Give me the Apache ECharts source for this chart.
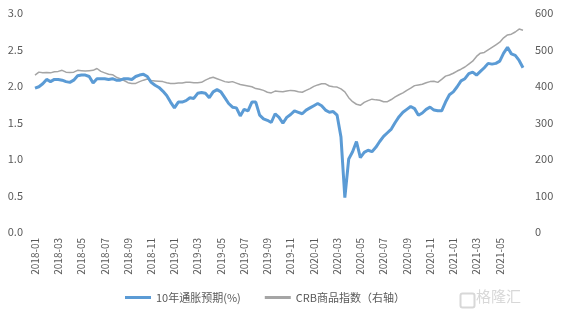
<!DOCTYPE html>
<html>
<head>
<meta charset="utf-8">
<script src="https://cdn.jsdelivr.net/npm/echarts@6/dist/echarts.min.js"></script>
<style>
    html, body { margin: 0; padding: 0; background: #fff; }
    #chart { width: 563px; height: 322px; }
</style>
</head>
<body>
<div id="chart"></div>
<script>
    // 10年通胀预期(%)，约每旬一个点
    var breakeven = [
        1.97, 1.99, 2.03, 2.09, 2.06, 2.09, 2.09, 2.08, 2.06, 2.05,
        2.08, 2.14, 2.15, 2.15, 2.13, 2.04, 2.10, 2.10, 2.10, 2.09,
        2.10, 2.08, 2.08, 2.10, 2.10, 2.09, 2.13, 2.15, 2.16, 2.13,
        2.05, 2.01, 1.98, 1.93, 1.87, 1.78, 1.70, 1.78, 1.78, 1.80,
        1.84, 1.83, 1.90, 1.91, 1.90, 1.84, 1.92, 1.95, 1.92, 1.84,
        1.76, 1.71, 1.70, 1.59, 1.68, 1.66, 1.78, 1.78, 1.60, 1.55,
        1.53, 1.50, 1.62, 1.57, 1.49, 1.57, 1.61, 1.66, 1.64, 1.62,
        1.67, 1.70, 1.73, 1.76, 1.73, 1.67, 1.64, 1.65, 1.60, 1.30,
        0.47, 1.00, 1.10, 1.24, 1.02, 1.09, 1.12, 1.10, 1.16, 1.24,
        1.31, 1.36, 1.41, 1.50, 1.58, 1.64, 1.68, 1.72, 1.69, 1.60,
        1.63, 1.68, 1.71, 1.67, 1.66, 1.66, 1.78, 1.88, 1.92, 1.99,
        2.07, 2.10, 2.17, 2.19, 2.15, 2.20, 2.25, 2.31, 2.30, 2.31,
        2.34, 2.45, 2.53, 2.44, 2.42, 2.35, 2.25
    ];
    // CRB商品指数
    var crb = [
        430, 438, 436, 437, 436, 439, 440, 443, 438, 437,
        438, 443, 442, 441, 442, 443, 448, 440, 436, 432,
        431, 424, 420, 415, 409, 407, 407, 412, 416, 419,
        415, 414, 413, 412, 409, 407, 407, 408, 408, 410,
        410, 409, 409, 410, 416, 421, 424, 420, 416, 412,
        410, 412, 408, 404, 402, 400, 398, 393, 391, 388,
        383, 381, 386, 385, 384, 386, 388, 387, 384, 383,
        388, 393, 399, 403, 406, 406, 400, 398, 397, 392,
        384, 368, 357, 350, 347, 355, 360, 364, 362, 361,
        357, 357, 363, 370, 376, 381, 388, 394, 401, 403,
        405, 409, 412, 413, 410, 418, 427, 430, 435, 441,
        446, 452, 460, 468, 481, 490, 492, 499, 506, 513,
        520, 532, 540, 542, 548, 556, 553
    ];

    // 日期：每月 01/11/21 三个点
    var dates = [];
    for (var y = 2018; y <= 2021; y++) {
        for (var m = 1; m <= 12; m++) {
            var mm = (m < 10 ? '0' : '') + m;
            ['01', '11', '21'].forEach(function (d) {
                if (dates.length < breakeven.length) dates.push(y + '-' + mm + '-' + d);
            });
        }
    }

    var leftTicks = [0, 3, 0.5];
    var rightTicks = [0, 600, 100];

    var chart = echarts.init(document.getElementById('chart'));
    var labelColor = '#595959';
    var font = '"Noto Sans CJK SC", "Liberation Sans", sans-serif';

    var option = {
        animation: false,
        grid: {
            left: 35,
            right: 40,
            top: 13,
            bottom: 90
        },
        legend: {
            bottom: 14,
            left: 120,
            itemWidth: 26,
            itemHeight: 3,
            itemGap: 24,
            icon: 'rect',
            textStyle: { color: labelColor, fontSize: 11, fontFamily: font },
            data: ['10年通胀预期(%)', 'CRB商品指数（右轴）']
        },
        xAxis: {
            type: 'category',
            data: dates,
            boundaryGap: false,
            axisLine: { show: false },
            axisTick: { show: false },
            axisLabel: {
                rotate: 90,
                margin: 6,
                color: labelColor,
                fontSize: 10,
                fontFamily: font,
                interval: function (index) {
                    return index % 6 === 0 && index <= 120;
                },
                formatter: function (v) {
                    return v.slice(0, 7);
                }
            }
        },
        yAxis: [{
            type: 'value',
            min: leftTicks[0],
            max: leftTicks[1],
            interval: leftTicks[2],
            splitLine: { show: false },
            axisLine: { show: false },
            axisTick: { show: false },
            axisLabel: {
                margin: 12,
                color: labelColor,
                fontSize: 11,
                fontFamily: font,
                formatter: function (v) { return v.toFixed(1); }
            }
        }, {
            type: 'value',
            min: rightTicks[0],
            max: rightTicks[1],
            interval: rightTicks[2],
            splitLine: { show: false },
            axisLine: { show: false },
            axisTick: { show: false },
            axisLabel: {
                margin: 12,
                color: labelColor,
                fontSize: 11,
                fontFamily: font
            }
        }],
        series: [{
            name: 'CRB商品指数（右轴）',
            type: 'line',
            yAxisIndex: 1,
            data: crb,
            symbol: 'none',
            z: 2,
            itemStyle: { color: '#A5A5A5' },
            lineStyle: { color: '#A5A5A5', width: 1.5 }
        }, {
            name: '10年通胀预期(%)',
            type: 'line',
            yAxisIndex: 0,
            data: breakeven,
            symbol: 'none',
            z: 3,
            itemStyle: { color: '#5B9BD5' },
            lineStyle: { color: '#5B9BD5', width: 3 }
        }],
        graphic: [{
            type: 'rect',
            left: 458,
            top: 291,
            shape: { width: 14, height: 14, r: 2 },
            style: { fill: 'none', stroke: '#d8d8d8', lineWidth: 2 }
        }, {
            type: 'text',
            left: 476,
            top: 289,
            style: { text: '格隆汇', fill: '#d8d8d8', fontSize: 15, fontFamily: font }
        }]
    };
    chart.setOption(option);
</script>
</body>
</html>
